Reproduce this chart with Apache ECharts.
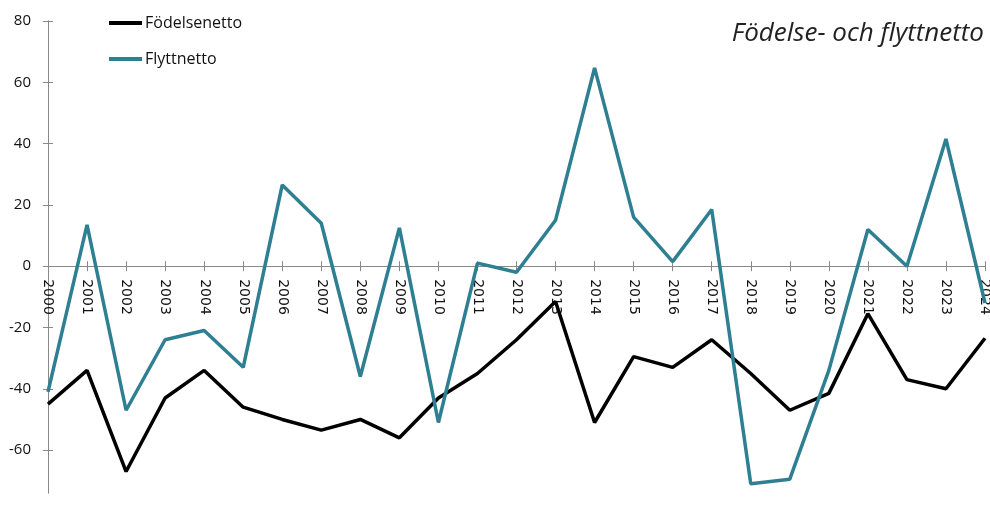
<!DOCTYPE html>
<html><head><meta charset="utf-8">
<script src="https://cdn.jsdelivr.net/npm/echarts@6/dist/echarts.min.js"></script>
<style>html,body{margin:0;padding:0;background:#fff}#c{width:990px;height:510px}</style>
</head><body><div id="c"></div>
<script>
const years = ['2000','2001','2002','2003','2004','2005','2006','2007','2008','2009','2010','2011','2012','2013','2014','2015','2016','2017','2018','2019','2020','2021','2022','2023','2024'];
const fodelsenetto = [-45,-34,-67,-43,-34,-46,-50,-53.5,-50,-56,-43,-35,-24,-11.5,-51,-29.5,-33,-24,-35,-47,-41.5,-15.5,-37,-40,-23.5];
const flyttnetto = [-41,13.5,-47,-24,-21,-33,26.5,14,-36,12.5,-51,1,-2,15,64.7,16,1.5,18.5,-71,-69.5,-34,12,0,41.5,-12];
const yTicks = [-60,-40,-20,0,20,40,60,80];
const titleText = 'Födelse- och flyttnetto';

const Y_MIN = -74, Y_MAX = 80, GRID_TOP = 21, GRID_BOTTOM = 17, H = 510;
const plotH = H - GRID_TOP - GRID_BOTTOM;
const zeroOffset = -(plotH * (0 - Y_MIN) / (Y_MAX - Y_MIN));

const axisColor = '#898989';
const tealColor = '#2f7f92';
const chart = echarts.init(document.getElementById('c'));
const xBase = {type:'category', data:years, boundaryGap:false, position:'bottom', offset:zeroOffset,
  axisLine:{onZero:false, lineStyle:{color:axisColor, width:1}}};
const yBase = {type:'value', min:Y_MIN, max:Y_MAX, position:'left',
  axisLine:{show:true, lineStyle:{color:axisColor, width:1}}, splitLine:{show:false}};
chart.setOption({
  animation:false,
  title:{text:titleText, right:1, top:16, textStyle:{fontFamily:'Open Sans', fontStyle:'italic', fontWeight:'normal', fontSize:26, color:'#222'}},
  legend:{left:104, top:10, orient:'vertical', itemGap:20, itemWidth:33, itemHeight:4, icon:'rect',
    textStyle:{fontFamily:'Open Sans', fontSize:16, color:'#111', padding:[0,0,0,-2]},
    data:['Födelsenetto','Flyttnetto']},
  grid:{left:48, right:5, top:GRID_TOP, bottom:GRID_BOTTOM, containLabel:false, outerBoundsMode:'none'},
  xAxis:[
    Object.assign({}, xBase, {
      axisTick:{show:true, length:5, inside:false, lineStyle:{color:axisColor}},
      axisLabel:{rotate:-90, interval:0, margin:13, fontFamily:'DejaVu Sans', fontSize:14, color:'#111'}}),
    Object.assign({}, xBase, {
      axisTick:{show:true, length:5, inside:true, lineStyle:{color:axisColor}},
      axisLabel:{show:false}})
  ],
  yAxis:[
    Object.assign({}, yBase, {
      axisTick:{show:true, length:5, customValues:yTicks, lineStyle:{color:axisColor}},
      axisLabel:{customValues:yTicks, margin:17, fontFamily:'Open Sans', fontSize:15, color:'#111'}}),
    Object.assign({}, yBase, {
      axisTick:{show:true, inside:true, length:5, customValues:yTicks, lineStyle:{color:axisColor}},
      axisLabel:{show:false}})
  ],
  series:[
    {name:'Födelsenetto', type:'line', xAxisIndex:0, yAxisIndex:0, data:fodelsenetto, symbol:'none', lineStyle:{color:'#000', width:3.5}, itemStyle:{color:'#000'}},
    {name:'Flyttnetto', type:'line', xAxisIndex:0, yAxisIndex:0, data:flyttnetto, symbol:'none', lineStyle:{color:tealColor, width:3.5}, itemStyle:{color:tealColor}}
  ]
});
</script></body></html>
